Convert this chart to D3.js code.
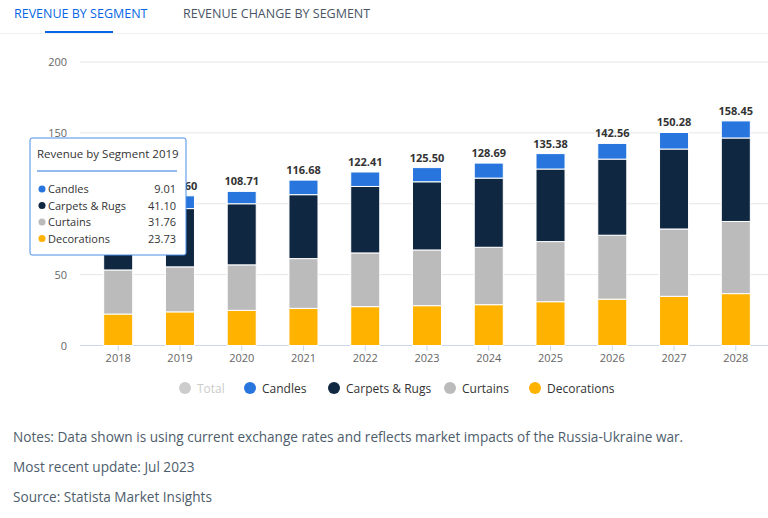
<!DOCTYPE html>
<html><head><meta charset="utf-8">
<script src="https://cdn.jsdelivr.net/npm/d3@7"></script>
<style>body{margin:0;background:#fff;font-family:"Open Sans",sans-serif}</style>
</head><body><svg id="c" width="768" height="518"></svg>
<script>
const years = ["2018","2019","2020","2021","2022","2023","2024","2025","2026","2027","2028"];
const decorations = [22.2,23.73,24.8,26.2,27.4,28.1,28.8,30.9,32.7,34.7,36.6];
const curtains = [31.1,31.76,32.1,35.1,37.9,39.3,40.5,42.4,45.1,47.5,50.9];
const carpets = [40.0,41.10,43.1,45.1,46.9,48.1,48.8,51.2,53.7,56.4,58.9];
const candles = [8.6,9.01,8.71,10.28,10.21,10.0,10.59,10.88,11.06,11.68,12.05];
const totals = ["101.90","105.60","108.71","116.68","122.41","125.50","128.69","135.38","142.56","150.28","158.45"];
const yTicks = [0,50,100,150,200];
const seriesNames = ["Decorations","Curtains","Carpets & Rugs","Candles"];
const colors = ["#ffb200","#bbbbbb","#0f2740","#2876dd"];

const svg = d3.select("#c");
// tabs
svg.append("text").attr("x",14).attr("y",18).attr("font-size",12.5).attr("fill","#0666e5").text("REVENUE BY SEGMENT");
svg.append("rect").attr("x",45).attr("y",31).attr("width",68).attr("height",3).attr("fill","#0666e5");
svg.append("text").attr("x",183).attr("y",18).attr("font-size",12.5).attr("fill","#4a5566").text("REVENUE CHANGE BY SEGMENT");
svg.append("line").attr("x1",0).attr("x2",768).attr("y1",33.5).attr("y2",33.5).attr("stroke","#eef0f3");

const x = d3.scaleBand().domain(years).range([87,767]).paddingInner(0.53).paddingOuter(0.27);
const y = d3.scaleLinear().domain([0,200]).range([345.5,62]);

const g = svg.append("g");
g.selectAll(".grid").data(yTicks).join("line").attr("x1",80).attr("x2",768)
  .attr("y1",d=>y(d)).attr("y2",d=>y(d)).attr("stroke",d=>d===0?"#ccd6eb":"#e6e6e6");
g.selectAll(".yl").data(yTicks).join("text").attr("x",67).attr("y",d=>y(d)+4)
  .attr("text-anchor","end").attr("font-size",11).attr("fill","#666").text(d=>d);

const rows = years.map((yr,i)=>({year:yr,Decorations:decorations[i],Curtains:curtains[i],"Carpets & Rugs":carpets[i],Candles:candles[i]}));
const stack = d3.stack().keys(seriesNames)(rows);
stack.forEach((s,k)=>{
  g.selectAll(".b"+k).data(s).join("rect")
    .attr("x",d=>x(d.data.year)).attr("width",x.bandwidth())
    .attr("y",d=>y(d[1])).attr("height",d=>y(d[0])-y(d[1]))
    .attr("fill",colors[k]).attr("stroke","#fff").attr("stroke-width",1);
});
g.selectAll(".tot").data(years).join("text")
  .attr("x",d=>x(d)+x.bandwidth()/2).attr("y",(d,i)=>y(decorations[i]+curtains[i]+carpets[i]+candles[i])-6)
  .attr("text-anchor","middle").attr("font-size",11).attr("font-weight","bold").attr("fill","#333")
  .text((d,i)=>totals[i]);
g.selectAll(".xl").data(years).join("text").attr("x",d=>x(d)+x.bandwidth()/2).attr("y",362)
  .attr("text-anchor","middle").attr("font-size",11).attr("fill","#666").text(d=>d);
g.selectAll(".xt").data(years).join("line").attr("x1",d=>x(d)+x.bandwidth()/2).attr("x2",d=>x(d)+x.bandwidth()/2)
  .attr("y1",345.5).attr("y2",351).attr("stroke","#ccd6eb");

// legend
const leg = [["Total","#cccccc",185],["Candles",colors[3],250],["Carpets & Rugs",colors[2],334],["Curtains",colors[1],450],["Decorations",colors[0],535]];
leg.forEach(([n,c,lx])=>{
  svg.append("circle").attr("cx",lx).attr("cy",388).attr("r",6).attr("fill",c);
  svg.append("text").attr("x",lx+12).attr("y",392.5).attr("font-size",12).attr("fill",n==="Total"?"#cccccc":"#333").text(n);
});

// tooltip
const tt = svg.append("g").attr("transform","translate(30,138)");
tt.append("rect").attr("width",156).attr("height",117).attr("rx",2).attr("fill","#fff").attr("stroke","#4a8ee8");
tt.append("text").attr("x",7).attr("y",20).attr("font-size",11.5).attr("fill","#333").text("Revenue by Segment 2019");
tt.append("line").attr("x1",7).attr("x2",147).attr("y1",33).attr("y2",33).attr("stroke","#2876dd");
const ttRows = [["Candles",colors[3],"9.01"],["Carpets & Rugs",colors[2],"41.10"],["Curtains",colors[1],"31.76"],["Decorations",colors[0],"23.73"]];
ttRows.forEach(([n,c,v],i)=>{
  const yy = 55+i*16.5;
  tt.append("circle").attr("cx",12).attr("cy",yy-4).attr("r",3.5).attr("fill",c);
  tt.append("text").attr("x",18).attr("y",yy).attr("font-size",11).attr("fill","#333").text(n);
  tt.append("text").attr("x",146).attr("y",yy).attr("font-size",11).attr("text-anchor","end").attr("fill","#333").text(v);
});

// notes
const notes = ["Notes: Data shown is using current exchange rates and reflects market impacts of the Russia-Ukraine war.","Most recent update: Jul 2023","Source: Statista Market Insights"];
svg.selectAll(".note").data(notes).join("text").attr("x",13).attr("y",(d,i)=>442+i*30)
  .attr("font-size",13.6).attr("fill","#4e5d6c").text(d=>d);
</script></body></html>
